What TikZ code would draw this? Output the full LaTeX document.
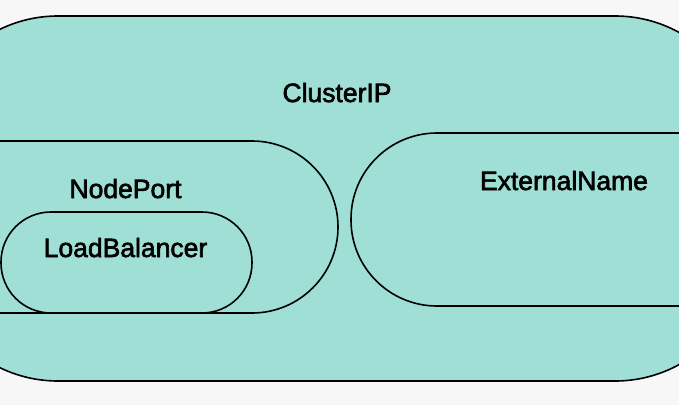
\documentclass[tikz,border=0pt]{standalone}
\usepackage{fontspec}
\setmainfont{Liberation Sans}
\definecolor{bgc}{HTML}{F7F7F7}
\definecolor{tealfill}{HTML}{9FDFD6}
\newcommand{\heavytext}[1]{\special{pdf:literal direct 0 G 2 Tr 0.6 w}#1\special{pdf:literal direct 0 Tr}}
\begin{document}
\begin{tikzpicture}[x=1pt,y=-1pt,
  region/.style={draw=black,line width=1.6pt,fill=tealfill},
  lbl/.style={anchor=base,inner sep=0pt,font=\fontsize{26.5}{30}\selectfont}]
\useasboundingbox (0,0) rectangle (679,405);
\fill[bgc] (0,0) rectangle (679,405);
\begin{scope}
\clip (0,0) rectangle (679,405);
\draw[region,rounded corners=133pt] (-75,16) rectangle (748,381);
\draw[region,rounded corners=86pt] (-200,141) rectangle (338,313);
\draw[region,rounded corners=50pt] (1,212) rectangle (252,313);
\draw[region,rounded corners=86pt] (351,133) rectangle (850,306);
\end{scope}
\node[lbl] (cip) at (337,102) {\heavytext{ClusterIP}};
\node[lbl] (np) at (125.5,198) {\heavytext{NodePort}};
\node[lbl] (lb) at (125.5,257) {\heavytext{LoadBalancer}};
\node[lbl] (en) at (564,190) {\heavytext{ExternalName}};
\end{tikzpicture}
\end{document}
